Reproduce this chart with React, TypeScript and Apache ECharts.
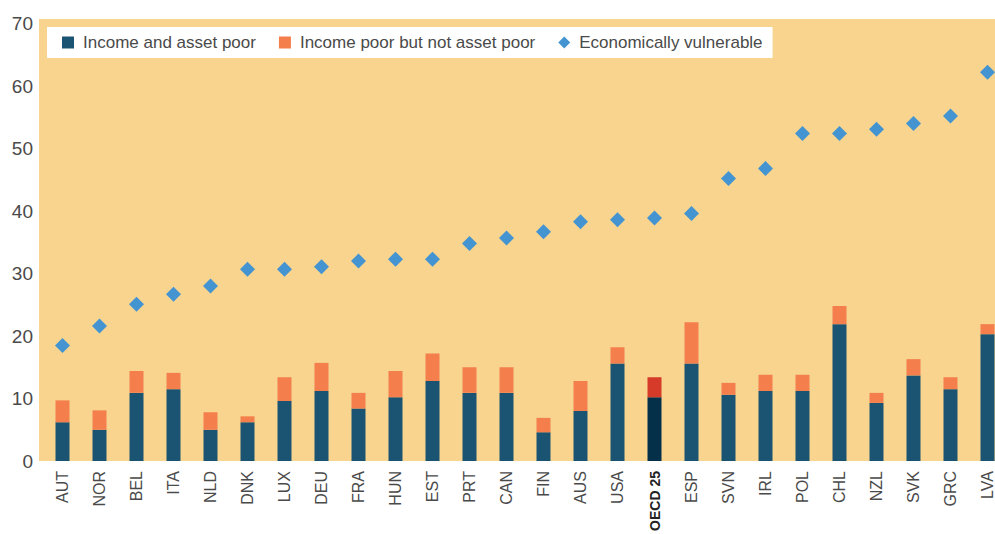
import React, { useEffect, useRef } from "react";
import * as echarts from "echarts";

const categories = ["AUT","NOR","BEL","ITA","NLD","DNK","LUX","DEU","FRA","HUN","EST","PRT","CAN","FIN","AUS","USA","OECD 25","ESP","SVN","IRL","POL","CHL","NZL","SVK","GRC","LVA"];
const incomeAndAssetPoor = [6.2,5.0,10.9,11.5,5.0,6.2,9.6,11.2,8.4,10.2,12.8,10.9,10.9,4.6,8.0,15.6,10.2,15.6,10.6,11.2,11.2,21.9,9.3,13.7,11.5,20.3];
const incomePoorNotAssetPoor = [3.5,3.1,3.5,2.6,2.8,0.95,3.8,4.5,2.5,4.2,4.4,4.1,4.1,2.3,4.8,2.6,3.2,6.6,1.9,2.6,2.6,2.9,1.6,2.6,1.9,1.6];
const economicallyVulnerable = [18.5,21.6,25.1,26.7,28.0,30.7,30.7,31.1,32.0,32.3,32.3,34.8,35.7,36.7,38.3,38.6,38.9,39.6,45.2,46.8,52.4,52.4,53.1,54.0,55.2,62.2];
const yTicks = [0,10,20,30,40,50,60,70];

const HIGHLIGHT = "OECD 25";
const FONT = '"Liberation Sans", Arial, sans-serif';
const TEXT = "#4a4a4a";

export default function App() {
  const ref = useRef<HTMLDivElement>(null);
  useEffect(() => {
    if (!ref.current) return;
    const chart = echarts.init(ref.current, null, { renderer: "svg" });
    const darkData = incomeAndAssetPoor.map((v, i) =>
      categories[i] === HIGHLIGHT ? { value: v, itemStyle: { color: "#05304a" } } : v
    );
    const orangeData = incomePoorNotAssetPoor.map((v, i) =>
      categories[i] === HIGHLIGHT ? { value: v, itemStyle: { color: "#d63a28" } } : v
    );
    chart.setOption({
      animation: false,
      textStyle: { fontFamily: FONT },
      graphic: [
        {
          type: "rect",
          z: -10,
          silent: true,
          shape: { x: 39, y: 19, width: 960, height: 442 },
          style: { fill: "#f8d48f" },
        },
      ],
      legend: {
        left: 47,
        top: 27,
        backgroundColor: "#ffffff",
        padding: [7, 10, 7, 15],
        itemWidth: 12,
        itemHeight: 12,
        itemGap: 23,
        textStyle: { fontFamily: FONT, fontSize: 17, color: TEXT, padding: [0, 0, 0, 4] },
        data: [
          { name: "Income and asset poor", icon: "rect" },
          { name: "Income poor but not asset poor", icon: "rect" },
          { name: "Economically vulnerable", icon: "diamond" },
        ],
      },
      grid: {
        left: 44,
        right: -11,
        top: 23.5,
        bottom: 73,
        containLabel: false,
        outerBoundsMode: "none",
      },
      xAxis: {
        type: "category",
        data: categories,
        axisLine: { show: false },
        axisTick: { show: false },
        axisLabel: {
          rotate: 90,
          interval: 0,
          margin: 10,
          fontFamily: FONT,
          fontSize: 16,
          color: TEXT,
          formatter: (v: string) => (v === HIGHLIGHT ? "{b|" + v + "}" : v),
          rich: { b: { fontWeight: "bold", color: "#222222", fontFamily: FONT, fontSize: 14 } },
        },
      },
      yAxis: {
        type: "value",
        min: yTicks[0],
        max: yTicks[yTicks.length - 1],
        interval: 10,
        splitLine: { show: false },
        axisLine: { show: false },
        axisTick: { show: false },
        axisLabel: { margin: 11, fontFamily: FONT, fontSize: 19, color: TEXT },
      },
      series: [
        {
          name: "Income and asset poor",
          type: "bar",
          stack: "poor",
          barWidth: 14,
          itemStyle: { color: "#1a5472" },
          data: darkData,
        },
        {
          name: "Income poor but not asset poor",
          type: "bar",
          stack: "poor",
          barWidth: 14,
          itemStyle: { color: "#f47f4d" },
          data: orangeData,
        },
        {
          name: "Economically vulnerable",
          type: "scatter",
          symbol: "diamond",
          symbolSize: 15,
          itemStyle: { color: "#4394d1", opacity: 1 },
          data: economicallyVulnerable,
        },
      ],
    });
    return () => chart.dispose();
  }, []);
  return (
    <div
      ref={ref}
      style={{ position: "absolute", left: 0, top: 0, width: 995, height: 534 }}
    />
  );
}
